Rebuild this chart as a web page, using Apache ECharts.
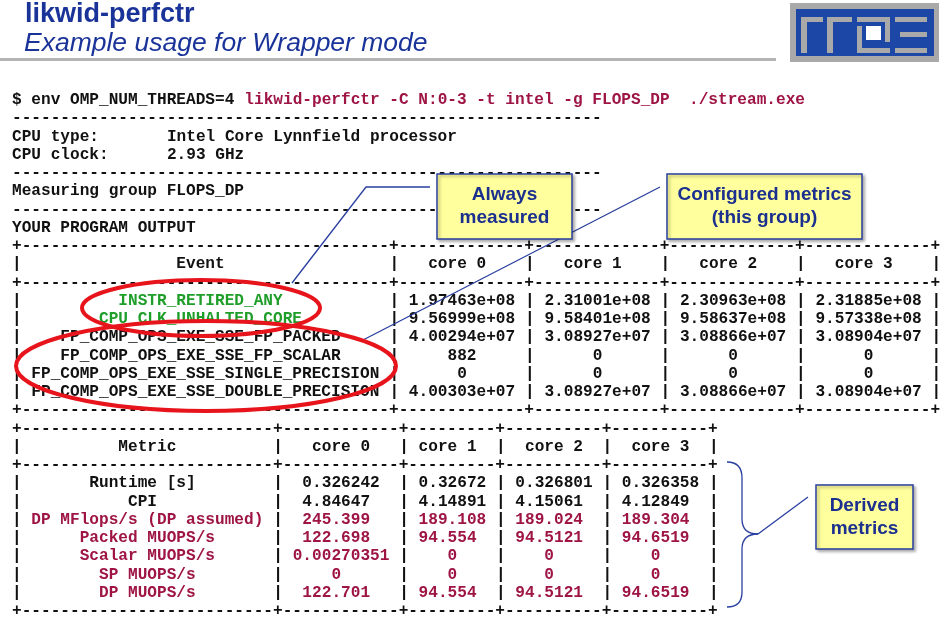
<!DOCTYPE html>
<html>
<head>
<meta charset="utf-8">
<title>likwid-perfctr</title>
<script src="https://cdn.jsdelivr.net/npm/echarts@6/dist/echarts.min.js"></script>
<style>
  html, body { margin: 0; padding: 0; background: #fff; }
  #slide { width: 945px; height: 633px; }
</style>
</head>
<body>
<div id="slide"></div>
<script>
const slideTitle = 'likwid-perfctr';
const slideSubtitle = 'Example usage for Wrapper mode';
const commandPrefix = '$ env OMP_NUM_THREADS=4 ';
const commandTool = 'likwid-perfctr -C N:0-3 -t intel -g FLOPS_DP  ./stream.exe';
const cpuLabels = ['CPU type:', 'CPU clock:'];
const cpuValues = ['Intel Core Lynnfield processor', '2.93 GHz'];
const groupName = 'FLOPS_DP';
const coreNames = ['core 0', 'core 1', 'core 2', 'core 3'];

const eventNames = [
  'INSTR_RETIRED_ANY',
  'CPU_CLK_UNHALTED_CORE',
  'FP_COMP_OPS_EXE_SSE_FP_PACKED',
  'FP_COMP_OPS_EXE_SSE_FP_SCALAR',
  'FP_COMP_OPS_EXE_SSE_SINGLE_PRECISION',
  'FP_COMP_OPS_EXE_SSE_DOUBLE_PRECISION'
];
const eventCore0 = ['1.97463e+08', '9.56999e+08', '4.00294e+07', '882', '0', '4.00303e+07'];
const eventCore1 = ['2.31001e+08', '9.58401e+08', '3.08927e+07', '0', '0', '3.08927e+07'];
const eventCore2 = ['2.30963e+08', '9.58637e+08', '3.08866e+07', '0', '0', '3.08866e+07'];
const eventCore3 = ['2.31885e+08', '9.57338e+08', '3.08904e+07', '0', '0', '3.08904e+07'];

const metricNames = [
  'Runtime [s]',
  'CPI',
  'DP MFlops/s (DP assumed)',
  'Packed MUOPS/s',
  'Scalar MUOPS/s',
  'SP MUOPS/s',
  'DP MUOPS/s'
];
const metricCore0 = ['0.326242', '4.84647', '245.399', '122.698', '0.00270351', '0', '122.701'];
const metricCore1 = ['0.32672', '4.14891', '189.108', '94.554', '0', '0', '94.554'];
const metricCore2 = ['0.326801', '4.15061', '189.024', '94.5121', '0', '0', '94.5121'];
const metricCore3 = ['0.326358', '4.12849', '189.304', '94.6519', '0', '0', '94.6519'];

const calloutTexts = ['Always\nmeasured', 'Configured metrics\n(this group)', 'Derived\nmetrics'];

// terminal grid
const CW = 9.68;
const X0 = 12;
const FS = CW / 0.6;
const LINE0 = 100;
const LH = 18.25;
const MONO = 'bold ' + FS.toFixed(2) + 'px "Liberation Mono", "Courier New", monospace';
const BLACK = '#111';
const GREEN = '#1f9e2a';
const RED = '#9e1545';
const BLUE = '#1b2f8f';

const elements = [];

function lineY(i) { return LINE0 + i * LH; }

function mono(col, line, str, color) {
  elements.push({
    type: 'text', x: X0 + col * CW, y: lineY(line), z: 10,
    style: { text: str, font: MONO, fill: color || BLACK, textAlign: 'left', textVerticalAlign: 'middle' }
  });
}

function center(str, w) {
  const left = Math.floor((w - str.length) / 2);
  return ' '.repeat(left) + str + ' '.repeat(w - str.length - left);
}

function border(widths) {
  return '+' + widths.map(w => '-'.repeat(w)).join('+') + '+';
}

// one table row, cells coloured separately
function tableRow(line, widths, cells, colors) {
  let col = 0;
  mono(col, line, '|');
  widths.forEach((w, i) => {
    mono(col + 1, line, center(cells[i], w), colors[i]);
    col += w + 1;
    mono(col, line, '|');
  });
}

// header block
mono(0, 0, commandPrefix);
mono(commandPrefix.length, 0, commandTool, RED);
mono(0, 1, '-'.repeat(61));
cpuLabels.forEach((lab, i) => {
  mono(0, 2 + i, lab);
  mono(16, 2 + i, cpuValues[i]);
});
mono(0, 4, '-'.repeat(61));
mono(0, 5, 'Measuring group ' + groupName);
mono(0, 6, '-'.repeat(61));
mono(0, 7, 'YOUR PROGRAM OUTPUT');

// event table
const evW = [38, 13, 13, 13, 13];
mono(0, 8, border(evW));
tableRow(9, evW, ['Event'].concat(coreNames), [BLACK, BLACK, BLACK, BLACK, BLACK]);
mono(0, 10, border(evW));
eventNames.forEach((name, i) => {
  const c = i < 2 ? GREEN : BLACK;
  tableRow(11 + i, evW, [name, eventCore0[i], eventCore1[i], eventCore2[i], eventCore3[i]], [c, BLACK, BLACK, BLACK, BLACK]);
});
mono(0, 17, border(evW));

// metric table
const mtW = [26, 12, 9, 10, 10];
mono(0, 18, border(mtW));
tableRow(19, mtW, ['Metric'].concat(coreNames), [BLACK, BLACK, BLACK, BLACK, BLACK]);
mono(0, 20, border(mtW));
metricNames.forEach((name, i) => {
  const c = i < 2 ? BLACK : RED;
  tableRow(21 + i, mtW, [name, metricCore0[i], metricCore1[i], metricCore2[i], metricCore3[i]], [c, c, c, c, c]);
});
mono(0, 28, border(mtW));

// title area
elements.push(
  { type: 'text', x: 25, y: 15, style: { text: slideTitle, font: 'bold 27px "Liberation Sans", Arial, sans-serif', fill: '#1a3399', textVerticalAlign: 'middle' } },
  { type: 'text', x: 24, y: 44, style: { text: slideSubtitle, font: 'italic 26.5px "Liberation Sans", Arial, sans-serif', fill: '#1a3399', textVerticalAlign: 'middle' } },
  { type: 'rect', shape: { x: 0, y: 58, width: 776, height: 3 }, style: { fill: '#b4b4b4' } }
);

// logo
const LOGO_GRAY = '#a9a9a9';
const logoRects = [
  [790, 3, 149, 59, LOGO_GRAY],
  [796, 9, 138, 47, '#1d47a6'],
  [801, 17, 6, 36, LOGO_GRAY], [801, 17, 22, 5, LOGO_GRAY],
  [827, 17, 6, 36, LOGO_GRAY], [827, 17, 25, 5, LOGO_GRAY],
  [857, 17, 33, 5, LOGO_GRAY], [885, 17, 5, 25, LOGO_GRAY],
  [857, 26, 5, 27, LOGO_GRAY], [857, 48, 33, 5, LOGO_GRAY],
  [866, 26, 15, 14, '#ffffff'],
  [895, 17, 32, 5, LOGO_GRAY], [900, 32, 27, 5, LOGO_GRAY], [895, 48, 32, 5, LOGO_GRAY]
];
logoRects.forEach(r => {
  elements.push({ type: 'rect', shape: { x: r[0], y: r[1], width: r[2], height: r[3] }, style: { fill: r[4] } });
});

// red ellipses
elements.push(
  { type: 'ellipse', z: 20, shape: { cx: 201, cy: 308, rx: 119, ry: 28 }, style: { fill: null, stroke: '#e8141c', lineWidth: 4 } },
  { type: 'ellipse', z: 20, shape: { cx: 206, cy: 366, rx: 190, ry: 45 }, style: { fill: null, stroke: '#e8141c', lineWidth: 4 } }
);

// callout connectors, curly brace made of curves and lines
const LINK = { stroke: '#2a3f9f', lineWidth: 1.3, fill: null };
const braceCurves = [
  [727, 462, 742, 478, 742, 462],
  [742, 519, 758, 534, 742, 534],
  [758, 534, 742, 549, 742, 534],
  [742, 592, 727, 607, 742, 607]
];
const braceLines = [[742, 478, 742, 519], [742, 549, 742, 592], [758, 534, 808, 497]];
elements.push(
  { type: 'polyline', z: 15, shape: { points: [[430, 187], [366, 187], [292, 283]] }, style: LINK },
  { type: 'line', z: 15, shape: { x1: 660, y1: 187, x2: 363, y2: 340 }, style: LINK }
);
braceCurves.forEach(c => {
  elements.push({ type: 'bezierCurve', z: 15, shape: { x1: c[0], y1: c[1], x2: c[2], y2: c[3], cpx1: c[4], cpy1: c[5] }, style: LINK });
});
braceLines.forEach(l => {
  elements.push({ type: 'line', z: 15, shape: { x1: l[0], y1: l[1], x2: l[2], y2: l[3] }, style: LINK });
});

// callout boxes
const boxes = [[437, 174, 135, 65], [667, 174, 195, 65], [816, 485, 97, 64]];
boxes.forEach((b, i) => {
  elements.push({
    type: 'rect', z: 30, shape: { x: b[0], y: b[1], width: b[2], height: b[3] },
    style: { fill: '#ffff9e', stroke: '#2a3f9f', lineWidth: 1.5, shadowBlur: 3, shadowOffsetX: 2, shadowOffsetY: 2, shadowColor: 'rgba(0,0,0,0.3)' }
  });
  elements.push({
    type: 'text', z: 31, x: b[0] + b[2] / 2, y: b[1] + b[3] / 2,
    style: { text: calloutTexts[i], font: 'bold 19px "Liberation Sans", Arial, sans-serif', fill: BLUE, textAlign: 'center', textVerticalAlign: 'middle', lineHeight: 23 }
  });
});

const chart = echarts.init(document.getElementById('slide'));
chart.setOption({
  backgroundColor: '#ffffff',
  animation: false,
  graphic: { elements: elements }
});
</script>
</body>
</html>
